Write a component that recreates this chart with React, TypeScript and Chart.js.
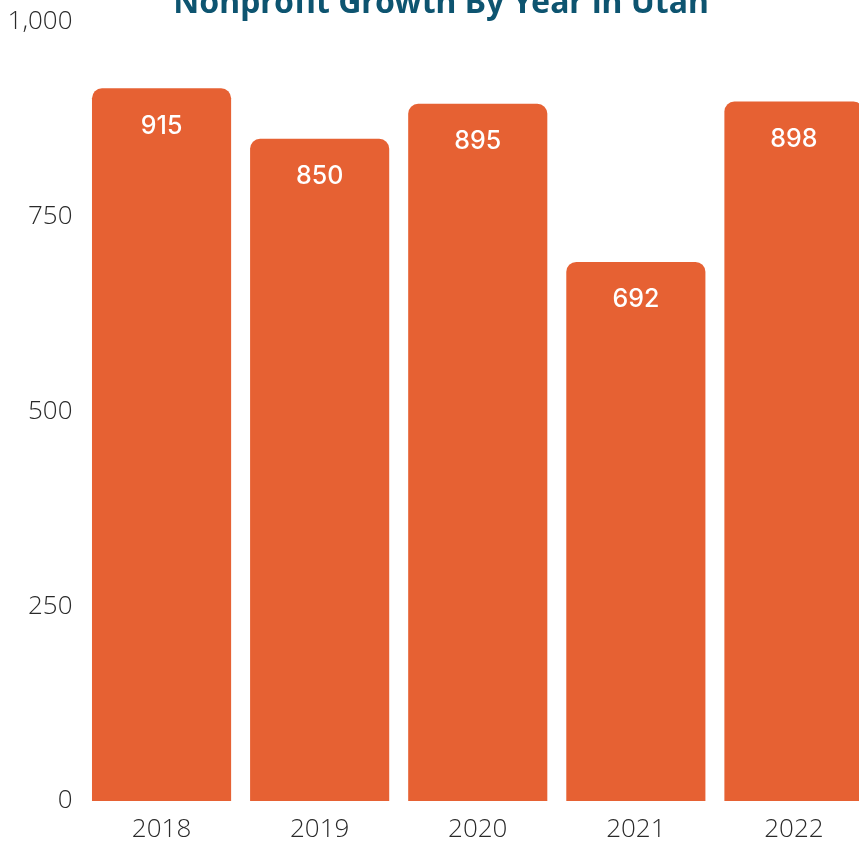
import React, { useEffect, useRef } from "react";
import { Chart, registerables } from "chart.js";

Chart.register(...registerables);

const title = "Nonprofit Growth By Year in Utah";
const years = ["2018", "2019", "2020", "2021", "2022"];
const nonprofits = [915, 850, 895, 692, 898];
const yTicks = [0, 250, 500, 750, 1000];

const barColor = "#E66133";
const titleColor = "#0D5470";

const titlePlugin = {
  id: "clippedTitle",
  afterDraw(chart: any) {
    const ctx = chart.ctx;
    ctx.save();
    ctx.font = "bold 32px 'Noto Sans', sans-serif";
    ctx.fillStyle = titleColor;
    ctx.textAlign = "center";
    ctx.textBaseline = "alphabetic";
    ctx.fillText(title, 441, 13);
    ctx.restore();
  },
};

const valueLabels = {
  id: "valueLabels",
  afterDatasetsDraw(chart: any) {
    const ctx = chart.ctx;
    const meta = chart.getDatasetMeta(0);
    ctx.save();
    ctx.font = "500 25px Inter, 'Noto Sans', sans-serif";
    ctx.fillStyle = "#ffffff";
    ctx.textAlign = "center";
    ctx.textBaseline = "middle";
    meta.data.forEach((bar: any, i: number) => {
      ctx.fillText(String(nonprofits[i]), bar.x, bar.y + 38);
    });
    ctx.restore();
  },
};

export default function App() {
  const ref = useRef<HTMLCanvasElement | null>(null);
  useEffect(() => {
    if (!ref.current) return;
    const chart = new Chart(ref.current, {
      type: "bar",
      data: {
        labels: years,
        datasets: [
          {
            data: nonprofits,
            backgroundColor: barColor,
            borderRadius: 10,
            borderSkipped: "start",
            categoryPercentage: 0.88,
            barPercentage: 1,
          },
        ],
      },
      options: {
        animation: false,
        responsive: true,
        maintainAspectRatio: false,
        layout: { padding: { top: 22, right: 7, bottom: 0, left: 0 } },
        plugins: {
          legend: { display: false },
          tooltip: { enabled: false },
          title: { display: false },
        },
        scales: {
          x: {
            grid: { display: false },
            border: { display: false },
            afterFit: (scale: any) => {
              scale.height = 40;
            },
            ticks: {
              color: "#2a2a2a",
              padding: 5,
              font: { family: "'Open Sans', sans-serif", size: 26, weight: 300 as any },
            },
          },
          y: {
            min: 0,
            max: 1000,
            afterBuildTicks: (scale: any) => {
              scale.ticks = yTicks.map((v) => ({ value: v }));
            },
            afterFit: (scale: any) => {
              scale.width = 82.5;
            },
            grid: { display: false },
            border: { display: false },
            ticks: {
              color: "#2a2a2a",
              padding: 2,
              font: { family: "'Open Sans', sans-serif", size: 26, weight: 300 as any },
              callback: (v: any) => Number(v).toLocaleString("en-US"),
            },
          },
        },
      },
      plugins: [titlePlugin, valueLabels],
    });
    return () => chart.destroy();
  }, []);
  return (
    <div
      style={{
        position: "fixed",
        top: 0,
        left: 0,
        width: 859,
        height: 841,
        overflow: "hidden",
        background: "#ffffff",
      }}
    >
      <div style={{ position: "absolute", top: 0, left: 0, width: 880, height: 841 }}>
        <canvas ref={ref} />
      </div>
    </div>
  );
}
